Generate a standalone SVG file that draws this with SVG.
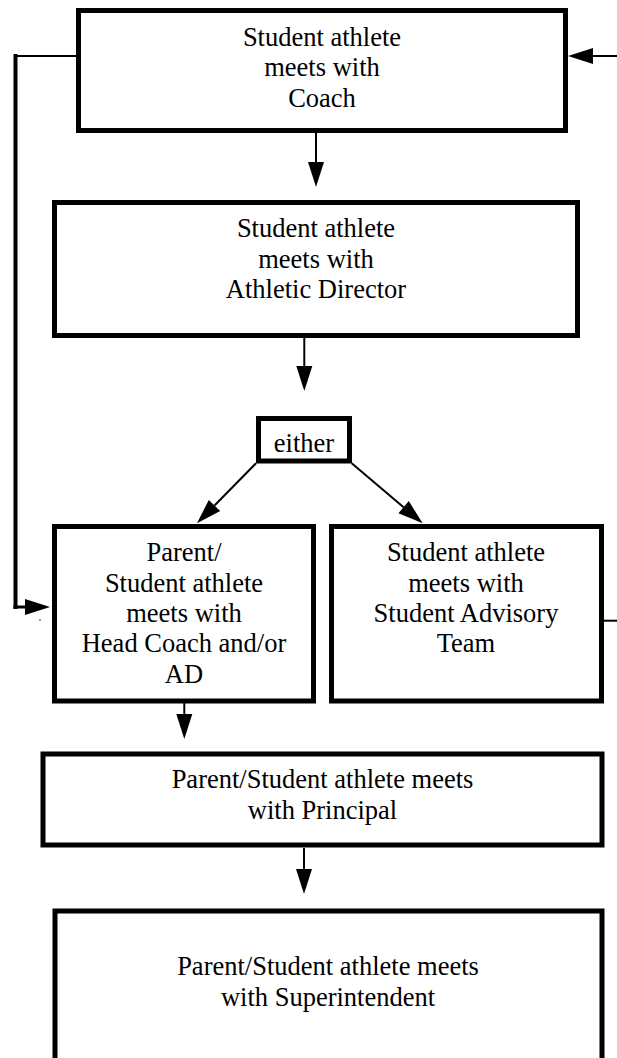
<svg xmlns="http://www.w3.org/2000/svg" width="617" height="1058" viewBox="0 0 617 1058">
<style>
.box{fill:#fff;stroke:#000;stroke-width:5}
.t{font-family:"Liberation Serif","Times New Roman",serif;font-size:26.5px;fill:#000;text-anchor:middle}
.c{fill:none;stroke:#000;stroke-width:2}
</style>
<defs>
<marker id="ah" markerUnits="userSpaceOnUse" markerWidth="25" markerHeight="16" refX="0" refY="8" orient="auto" overflow="visible">
<path d="M0,0 L25,8 L0,16 z" fill="#000"/>
</marker>
</defs>
<rect x="0" y="0" width="617" height="1058" fill="#fff"/>
<g id="connectors">
<path class="c" d="M76,56 H14"/>
<path class="c" style="stroke-width:4" d="M15.5,54 V609"/>
<path class="c" style="stroke-width:3" d="M13.5,607 H25" marker-end="url(#ah)"/>
<path class="c" d="M617,56 H593" marker-end="url(#ah)"/>
<path class="c" d="M316,133 V162" marker-end="url(#ah)"/>
<path class="c" d="M304.3,338 V366" marker-end="url(#ah)"/>
<path class="c" d="M256,463.3 L214.5,505.5" marker-end="url(#ah)"/>
<path class="c" d="M351.7,463.3 L403.6,507.2" marker-end="url(#ah)"/>
<path class="c" d="M184.3,703 V714" marker-end="url(#ah)"/>
<path class="c" d="M304,848 V869" marker-end="url(#ah)"/>
<path class="c" d="M604,620.7 H617"/>
<rect x="39" y="619.5" width="2" height="1" fill="#444"/>
</g>
<g id="n1">
<rect class="box" x="78.5" y="10.5" width="487" height="120"/>
<text class="t" x="322" y="45.5">Student athlete</text>
<text class="t" x="322" y="76">meets with</text>
<text class="t" x="322" y="106.5">Coach</text>
</g>
<g id="n2">
<rect class="box" x="54.5" y="202.5" width="523" height="133"/>
<text class="t" x="316" y="237.3">Student athlete</text>
<text class="t" x="316" y="267.5">meets with</text>
<text class="t" x="316" y="298.3">Athletic Director</text>
</g>
<g id="n3">
<rect class="box" x="258.5" y="418.5" width="91" height="42.5"/>
<text class="t" x="304" y="451.7">either</text>
</g>
<g id="n4">
<rect class="box" x="54.5" y="526.5" width="259" height="174.5"/>
<text class="t" x="184" y="560.7">Parent/</text>
<text class="t" x="184" y="591.5">Student athlete</text>
<text class="t" x="184" y="621.7">meets with</text>
<text class="t" x="184" y="652.3">Head Coach and/or</text>
<text class="t" x="184" y="683.3">AD</text>
</g>
<g id="n5">
<rect class="box" x="331.5" y="526.5" width="270" height="174.5"/>
<text class="t" x="466" y="560.7">Student athlete</text>
<text class="t" x="466" y="591.5">meets with</text>
<text class="t" x="466" y="621.7">Student Advisory</text>
<text class="t" x="466" y="652.3">Team</text>
</g>
<g id="n6">
<rect class="box" x="43" y="754" width="559" height="91"/>
<text class="t" x="322.5" y="788.3">Parent/Student athlete meets</text>
<text class="t" x="322.5" y="819">with Principal</text>
</g>
<g id="n7">
<rect class="box" x="55" y="911" width="547" height="200"/>
<text class="t" x="328" y="975">Parent/Student athlete meets</text>
<text class="t" x="328" y="1005.7">with Superintendent</text>
</g>
</svg>
